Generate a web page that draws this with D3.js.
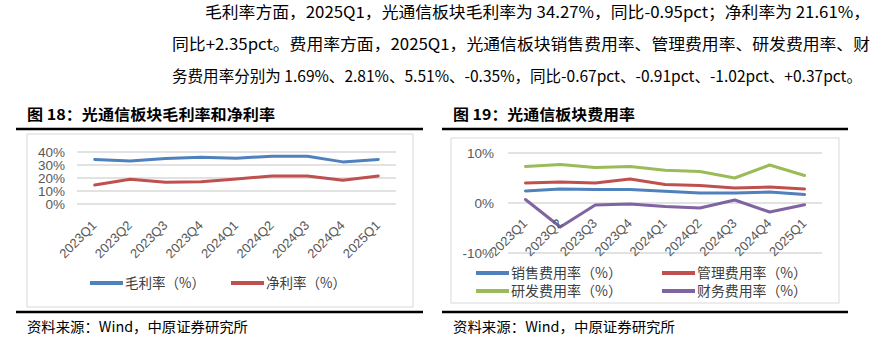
<!DOCTYPE html>
<html><head><meta charset="utf-8">
<script src="https://cdn.jsdelivr.net/npm/d3@7/dist/d3.min.js"></script>
<style>body{margin:0;background:#fff}svg{display:block}</style>
</head><body>
<script>
// ---------- data ----------
const categories = ["2023Q1","2023Q2","2023Q3","2023Q4","2024Q1","2024Q2","2024Q3","2024Q4","2025Q1"];
const grossMargin = [34.2, 33.0, 35.0, 36.0, 35.22, 36.8, 36.8, 32.4, 34.27];
const netMargin   = [14.6, 19.0, 16.7, 17.2, 19.26, 21.5, 21.5, 18.3, 21.61];
const salesExp    = [2.4, 2.8, 2.7, 2.7, 2.36, 2.0, 2.0, 2.2, 1.69];
const adminExp    = [4.0, 4.2, 4.0, 4.8, 3.72, 3.5, 3.0, 3.2, 2.81];
const rdExp       = [7.3, 7.7, 7.1, 7.3, 6.53, 6.3, 5.0, 7.6, 5.51];
const finExp      = [0.7, -4.8, -0.4, -0.2, -0.72, -1.0, 0.6, -1.8, -0.35];
const leftTicks = [0, 10, 20, 30, 40];
const rightTicks = [-10, 0, 10];
const leftSeriesNames = ["毛利率（%）", "净利率（%）"];
const rightSeriesNames = ["销售费用率（%）", "管理费用率（%）", "研发费用率（%）", "财务费用率（%）"];
const paragraph = [
  "毛利率方面，2025Q1，光通信板块毛利率为 34.27%，同比-0.95pct；净利率为 21.61%，",
  "同比+2.35pct。费用率方面，2025Q1，光通信板块销售费用率、管理费用率、研发费用率、财",
  "务费用率分别为 1.69%、2.81%、5.51%、-0.35%，同比-0.67pct、-0.91pct、-1.02pct、+0.37pct。"
];
const titles = ["图 18：光通信板块毛利率和净利率", "图 19：光通信板块费用率"];
const sourceText = "资料来源：Wind，中原证券研究所";

const C = {blue:"#4F81BD", red:"#C0504D", green:"#9BBB59", purple:"#8064A2", grid:"#D9D9D9", text:"#595959"};
const CJK = "'Noto Sans CJK SC', 'Liberation Sans', sans-serif";
const LAT = "'Liberation Sans', Arial, 'Noto Sans CJK SC', sans-serif";

const svg = d3.select("body").append("svg").attr("width", 882).attr("height", 344);
svg.append("rect").attr("width", 882).attr("height", 344).attr("fill", "#fff");

// ---------- paragraph ----------
const para = [{x:205, y:13, w:665}, {x:172, y:45, w:698}, {x:172, y:77, w:690}];
paragraph.forEach((t, i) => {
  svg.append("text").attr("x", para[i].x).attr("y", para[i].y).attr("dy", "0.35em")
    .attr("font-family", CJK).attr("font-size", 15.5).attr("fill", "#000")
    .attr("textLength", para[i].w).attr("lengthAdjust", "spacingAndGlyphs").text(t);
});

// ---------- frames ----------
function frame(x0, x1, title, tx, tw, boxX0, boxX1, boxY0, boxY1) {
  svg.append("text").attr("x", tx).attr("y", 115).attr("dy", "0.35em")
    .attr("font-family", CJK).attr("font-weight", "bold").attr("font-size", 15).attr("fill", "#000")
    .attr("textLength", tw).attr("lengthAdjust", "spacingAndGlyphs").text(title);
  svg.append("line").attr("x1", x0).attr("x2", x1).attr("y1", 129).attr("y2", 129).attr("stroke", "#000").attr("stroke-width", 2.5);
  svg.append("line").attr("x1", x0).attr("x2", x1).attr("y1", 312).attr("y2", 312).attr("stroke", "#000").attr("stroke-width", 2.5);
  svg.append("rect").attr("x", boxX0).attr("y", boxY0).attr("width", boxX1 - boxX0).attr("height", boxY1 - boxY0)
    .attr("fill", "none").attr("stroke", C.grid).attr("stroke-width", 1);
}
frame(16, 423, titles[0], 27, 248, 27, 413, 134, 307);
frame(442, 848, titles[1], 453, 182, 451, 839, 138, 303);

svg.append("text").attr("x", 27).attr("y", 327).attr("dy", "0.35em").attr("font-family", CJK).attr("font-size", 14)
  .attr("fill", "#000").attr("textLength", 221).attr("lengthAdjust", "spacingAndGlyphs").text(sourceText);
svg.append("text").attr("x", 453).attr("y", 327).attr("dy", "0.35em").attr("font-family", CJK).attr("font-size", 14)
  .attr("fill", "#000").attr("textLength", 222).attr("lengthAdjust", "spacingAndGlyphs").text(sourceText);

// ---------- chart helper ----------
function chart(opts) {
  const x = d3.scalePoint().domain(categories).range([opts.x0, opts.x1]).padding(0.5);
  const y = d3.scaleLinear().domain(opts.yDomain).range([opts.yBottom, opts.yTop]);
  const g = svg.append("g");
  // gridlines
  g.selectAll(".grid").data(opts.ticks).join("line")
    .attr("x1", opts.x0).attr("x2", opts.x1).attr("y1", d => y(d)).attr("y2", d => y(d))
    .attr("stroke", C.grid).attr("stroke-width", 1.3);
  // y axis labels
  const yAxis = d3.axisLeft(y).tickValues(opts.ticks).tickSize(0).tickPadding(0).tickFormat(d => d + "%");
  const ya = g.append("g").attr("transform", `translate(${opts.yLabelX},0)`).call(yAxis);
  ya.select(".domain").remove();
  ya.selectAll("text").attr("font-family", LAT).attr("font-size", opts.yFont).attr("fill", C.text);
  // lines
  const line = d3.line().x((d, i) => x(categories[i])).y(d => y(d)).curve(d3.curveLinear);
  opts.series.forEach(s => {
    g.append("path").datum(s.values).attr("d", line).attr("fill", "none")
      .attr("stroke", s.color).attr("stroke-width", 3).attr("stroke-linejoin", "round").attr("stroke-linecap", "round");
  });
  // x axis labels
  const xAxis = d3.axisBottom(x).tickSize(0).tickPadding(0);
  const xa = g.append("g").attr("transform", `translate(0,${opts.xLabelY})`).call(xAxis);
  xa.select(".domain").remove();
  xa.selectAll("text").attr("font-family", LAT).attr("font-size", 13).attr("fill", C.text)
    .attr("text-anchor", "end").attr("dy", "0.35em")
    .attr("transform", `translate(${opts.xLabelDX},0) rotate(-45)`)
    .attr("y", 0).attr("x", 0);
  return {x, y};
}

chart({x0: 77, x1: 396, yDomain: [0, 40], yBottom: 204, yTop: 152, ticks: leftTicks, yLabelX: 65, yFont: 13.5,
  xLabelY: 223, xLabelDX: -1,
  series: [{values: grossMargin, color: C.blue}, {values: netMargin, color: C.red}]});

chart({x0: 508, x1: 822, yDomain: [-10, 10], yBottom: 253, yTop: 153, ticks: rightTicks, yLabelX: 494, yFont: 13.5,
  xLabelY: 221, xLabelDX: -1,
  series: [{values: salesExp, color: C.blue}, {values: adminExp, color: C.red}, {values: rdExp, color: C.green}, {values: finExp, color: C.purple}]});

// ---------- legends ----------
function legendItem(lx, ly, color, label, tl) {
  svg.append("line").attr("x1", lx).attr("x2", lx + 33).attr("y1", ly).attr("y2", ly)
    .attr("stroke", color).attr("stroke-width", 4);
  svg.append("text").attr("x", lx + 35).attr("y", ly).attr("dy", "0.35em").attr("font-family", CJK)
    .attr("font-size", 14).attr("fill", "#404040").attr("textLength", tl).attr("lengthAdjust", "spacingAndGlyphs").text(label);
}
legendItem(90, 283, C.blue, leftSeriesNames[0], 80);
legendItem(231, 283, C.red, leftSeriesNames[1], 80);
legendItem(476, 273, C.blue, rightSeriesNames[0], 111);
legendItem(662, 273, C.red, rightSeriesNames[1], 110);
legendItem(476, 291, C.green, rightSeriesNames[2], 111);
legendItem(662, 291, C.purple, rightSeriesNames[3], 110);
</script>
</body></html>
